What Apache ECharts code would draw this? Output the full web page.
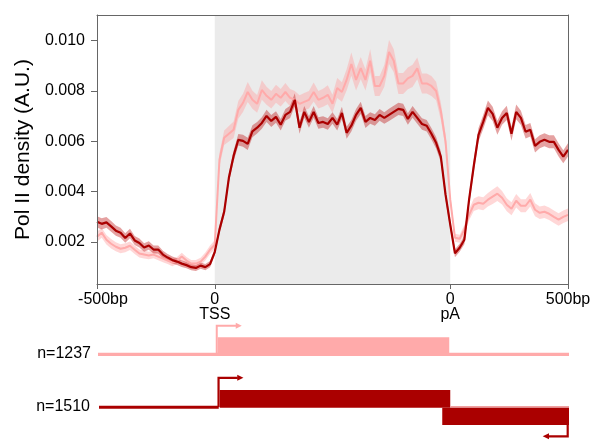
<!DOCTYPE html>
<html>
<head>
<meta charset="utf-8">
<script src="https://cdn.jsdelivr.net/npm/echarts@6/dist/echarts.min.js"></script>
<style>html,body{margin:0;padding:0;background:#fff;}#c{width:598px;height:441px;}</style>
</head>
<body>
<div id="c"></div>
<script>
// Metagene bins: 0-100 = -500bp..TSS, 100-300 = scaled gene body, 300-400 = pA..+500bp
var binStep = 4;
var xTickValues = [0, 100, 300, 400];
var xTickLabels = ['-500bp', '0\nTSS', '0\npA', '500bp'];
var yTickValues = [0.002, 0.004, 0.006, 0.008, 0.010];

var darkMean = [
0.00280,0.00272,0.00278,0.00262,0.00245,0.00237,0.00216,0.00234,0.00206,0.00196,
0.00178,0.00186,0.00170,0.00170,0.00150,0.00138,0.00128,0.00122,0.00114,0.00108,
0.00100,0.00097,0.00106,0.00100,0.00112,0.00160,0.00249,0.00320,0.00455,0.00542,
0.00606,0.00602,0.00590,0.00640,0.00654,0.00673,0.00701,0.00681,0.00697,0.00666,
0.00705,0.00717,0.00765,0.00654,0.00717,0.00677,0.00717,0.00673,0.00677,0.00669,
0.00693,0.00666,0.00713,0.00634,0.00662,0.00705,0.00733,0.00677,0.00693,0.00685,
0.00705,0.00693,0.00705,0.00717,0.00729,0.00725,0.00689,0.00717,0.00693,0.00669,
0.00662,0.00630,0.00594,0.00539,0.00388,0.00269,0.00155,0.00177,0.00209,0.00368,
0.00503,0.00626,0.00677,0.00733,0.00709,0.00654,0.00693,0.00713,0.00630,0.00717,
0.00693,0.00638,0.00646,0.00582,0.00598,0.00606,0.00598,0.00598,0.00566,0.00539,
0.00566];
var darkSE = [
0.00022,0.00022,0.00021,0.00021,0.00020,0.00020,0.00019,0.00019,0.00018,0.00018,
0.00017,0.00017,0.00016,0.00016,0.00015,0.00014,0.00014,0.00013,0.00013,0.00012,
0.00012,0.00012,0.00012,0.00012,0.00012,0.00013,0.00015,0.00017,0.00019,0.00021,
0.00023,0.00024,0.00024,0.00024,0.00023,0.00023,0.00024,0.00024,0.00023,0.00023,
0.00023,0.00024,0.00026,0.00024,0.00023,0.00023,0.00023,0.00023,0.00023,0.00023,
0.00023,0.00023,0.00024,0.00024,0.00023,0.00023,0.00024,0.00024,0.00023,0.00023,
0.00023,0.00023,0.00024,0.00024,0.00024,0.00024,0.00023,0.00023,0.00023,0.00023,
0.00023,0.00023,0.00023,0.00022,0.00021,0.00018,0.00016,0.00016,0.00018,0.00022,
0.00025,0.00027,0.00028,0.00029,0.00028,0.00028,0.00027,0.00028,0.00028,0.00029,
0.00028,0.00027,0.00027,0.00026,0.00026,0.00026,0.00026,0.00026,0.00026,0.00026,
0.00026];
var lightMean = [
0.00221,0.00237,0.00209,0.00193,0.00181,0.00173,0.00177,0.00185,0.00169,0.00154,
0.00150,0.00146,0.00150,0.00142,0.00134,0.00126,0.00118,0.00126,0.00142,0.00126,
0.00114,0.00114,0.00122,0.00142,0.00169,0.00189,0.00527,0.00614,0.00630,0.00646,
0.00725,0.00753,0.00796,0.00765,0.00749,0.00804,0.00781,0.00765,0.00789,0.00773,
0.00796,0.00773,0.00765,0.00749,0.00757,0.00765,0.00796,0.00765,0.00773,0.00785,
0.00749,0.00812,0.00796,0.00844,0.00907,0.00844,0.00891,0.00844,0.00920,0.00820,
0.00820,0.00860,0.00955,0.00920,0.00830,0.00830,0.00850,0.00860,0.00890,0.00830,
0.00830,0.00820,0.00800,0.00720,0.00600,0.00368,0.00217,0.00213,0.00249,0.00308,
0.00348,0.00356,0.00352,0.00368,0.00380,0.00392,0.00376,0.00348,0.00332,0.00364,
0.00344,0.00344,0.00368,0.00328,0.00316,0.00320,0.00312,0.00300,0.00289,0.00300,
0.00308];
var lightSE = [
0.00020,0.00020,0.00019,0.00019,0.00018,0.00018,0.00018,0.00017,0.00017,0.00016,
0.00016,0.00015,0.00015,0.00015,0.00015,0.00014,0.00014,0.00014,0.00015,0.00014,
0.00014,0.00014,0.00015,0.00016,0.00017,0.00018,0.00026,0.00029,0.00031,0.00033,
0.00035,0.00036,0.00040,0.00036,0.00035,0.00039,0.00036,0.00035,0.00036,0.00035,
0.00036,0.00035,0.00035,0.00034,0.00035,0.00035,0.00038,0.00035,0.00036,0.00038,
0.00036,0.00040,0.00039,0.00042,0.00046,0.00042,0.00044,0.00042,0.00046,0.00040,
0.00040,0.00043,0.00048,0.00046,0.00042,0.00042,0.00043,0.00044,0.00043,0.00040,
0.00040,0.00040,0.00037,0.00034,0.00028,0.00020,0.00016,0.00016,0.00018,0.00022,
0.00025,0.00026,0.00026,0.00027,0.00029,0.00029,0.00027,0.00026,0.00026,0.00027,
0.00026,0.00026,0.00027,0.00026,0.00025,0.00025,0.00025,0.00025,0.00025,0.00025,
0.00025];

var geneRows = [
  {label: 'n=1237', color: '#FFAAAA'},
  {label: 'n=1510', color: '#AA0000'}
];

var FONT = '"Liberation Sans", Arial, sans-serif';
var DARK = '#AA0000', LIGHT = '#FFAAAA', AXIS = '#666666';

function pairs(arr) { return arr.map(function (v, i) { return [i * binStep, v]; }); }

// confidence band drawn as one polygon through the axis scales
function bandSeries(mean, se, color, z) {
  return {
    type: 'custom', z: z, silent: true, clip: true,
    data: [[0]],
    renderItem: function (params, api) {
      var pts = [];
      for (var i = 0; i < mean.length; i++) pts.push(api.coord([i * binStep, mean[i] + se[i]]));
      for (var j = mean.length - 1; j >= 0; j--) pts.push(api.coord([j * binStep, mean[j] - se[j]]));
      return {type: 'polygon', shape: {points: pts}, style: {fill: color}};
    }
  };
}

var chart = echarts.init(document.getElementById('c'), null, {renderer: 'canvas'});

var option = {
  animation: false,
  grid: {left: 97, right: 30, top: 15, bottom: 157, show: false},
  xAxis: [{
    type: 'value', min: 0, max: 400, z: 10,
    axisLine: {show: true, lineStyle: {color: AXIS, width: 1}},
    axisTick: {show: true, length: 5, lineStyle: {color: AXIS}, customValues: xTickValues},
    axisLabel: {
      customValues: xTickValues, color: '#000', fontSize: 16, fontFamily: FONT,
      lineHeight: 15, margin: 8,
      formatter: function (v) {
        var idx = xTickValues.indexOf(v);
        var t = xTickLabels[idx];
        return idx === 0 ? '{s|' + t + '}' : t;
      },
      rich: {s: {fontSize: 16, fontFamily: FONT, color: '#000', padding: [0, 0, 0, 12], lineHeight: 15}}
    },
    splitLine: {show: false}
  }, {
    type: 'value', min: 0, max: 400, position: 'top', z: 10,
    axisLine: {show: true, onZero: false, lineStyle: {color: AXIS, width: 1}},
    axisTick: {show: false}, axisLabel: {show: false}, splitLine: {show: false}
  }],
  yAxis: [{
    type: 'value', min: 0.00033, max: 0.01102, z: 10,
    name: 'Pol II density (A.U.)', nameLocation: 'middle', nameGap: 62,
    nameTextStyle: {fontSize: 21, fontFamily: FONT, color: '#000'},
    axisLine: {show: true, lineStyle: {color: AXIS, width: 1}},
    axisTick: {show: true, length: 6, lineStyle: {color: AXIS}, customValues: yTickValues},
    axisLabel: {customValues: yTickValues, color: '#000', fontSize: 16, fontFamily: FONT, margin: 12,
      formatter: function (v) { return v.toFixed(3); }},
    splitLine: {show: false}
  }, {
    type: 'value', min: 0.00033, max: 0.01102, position: 'right', z: 10,
    axisLine: {show: true, onZero: false, lineStyle: {color: AXIS, width: 1}},
    axisTick: {show: false}, axisLabel: {show: false}, splitLine: {show: false}
  }],
  series: [
    {type: 'line', name: 'bodyShade', data: [], z: 1, silent: true,
      markArea: {silent: true, itemStyle: {color: '#EBEBEB'}, data: [[{xAxis: 100}, {xAxis: 300}]]}},
    bandSeries(lightMean, lightSE, 'rgba(255,160,160,0.42)', 3),
    bandSeries(darkMean, darkSE, 'rgba(190,20,20,0.40)', 3),
    {type: 'line', name: 'light', data: pairs(lightMean), z: 4, symbol: 'none',
      lineStyle: {color: LIGHT, width: 2}},
    {type: 'line', name: 'dark', data: pairs(darkMean), z: 5, symbol: 'none',
      lineStyle: {color: DARK, width: 2.2}}
  ]
};
chart.setOption(option);

function px(v) { return chart.convertToPixel({xAxisIndex: 0}, v); }
var tss = px(100), pa = px(300), x0 = px(0), x1 = px(400);
function rect(x, y, w, h, c) { return {type: 'rect', shape: {x: x, y: y, width: w, height: h}, style: {fill: c}, silent: true}; }
function pl(points, c, w) { return {type: 'polyline', shape: {points: points}, style: {stroke: c, lineWidth: w, fill: null}, silent: true}; }
function tri(points, c) { return {type: 'polygon', shape: {points: points}, style: {fill: c}, silent: true}; }
function txt(x, y, t) { return {type: 'text', x: x, y: y, style: {text: t, fill: '#000', font: '16px ' + FONT, align: 'right', verticalAlign: 'middle'}, silent: true}; }

var L = geneRows[0].color, D = geneRows[1].color;
var g = [];
// light row
g.push(rect(x0 + 1, 352.7, x1 - x0, 3.3, L));
g.push(rect(tss + 3, 337.3, pa - tss - 4, 18.7, L));
g.push(pl([[tss + 2, 354], [tss + 2, 325.7], [tss + 22, 325.7]], L, 2));
g.push(tri([[tss + 21, 322.7], [tss + 27, 325.7], [tss + 21, 328.7]], L));
g.push(txt(91, 354, geneRows[0].label));
// dark row
g.push(rect(x0 + 2, 405.7, tss - x0 + 2, 3, D));
g.push(rect(tss + 5, 390, pa - tss - 5, 17.7, D));
g.push(rect(pa, 406, x1 - pa + 1, 1.7, '#F0A0A0'));
g.push(rect(pa - 8, 407.7, x1 - pa + 9, 17.3, D));
g.push(pl([[tss + 3.8, 407], [tss + 3.8, 377.8], [tss + 23, 377.8]], D, 2.2));
g.push(tri([[tss + 22.5, 374.8], [tss + 28.7, 377.8], [tss + 22.5, 380.8]], D));
g.push(pl([[x1 - 0.3, 424], [x1 - 0.3, 436.3], [x1 - 19.5, 436.3]], D, 2.2));
g.push(tri([[x1 - 19, 433.3], [x1 - 25.3, 436.3], [x1 - 19, 439.3]], D));
g.push(txt(90, 407, geneRows[1].label));

chart.setOption({graphic: g});
</script>
</body>
</html>
